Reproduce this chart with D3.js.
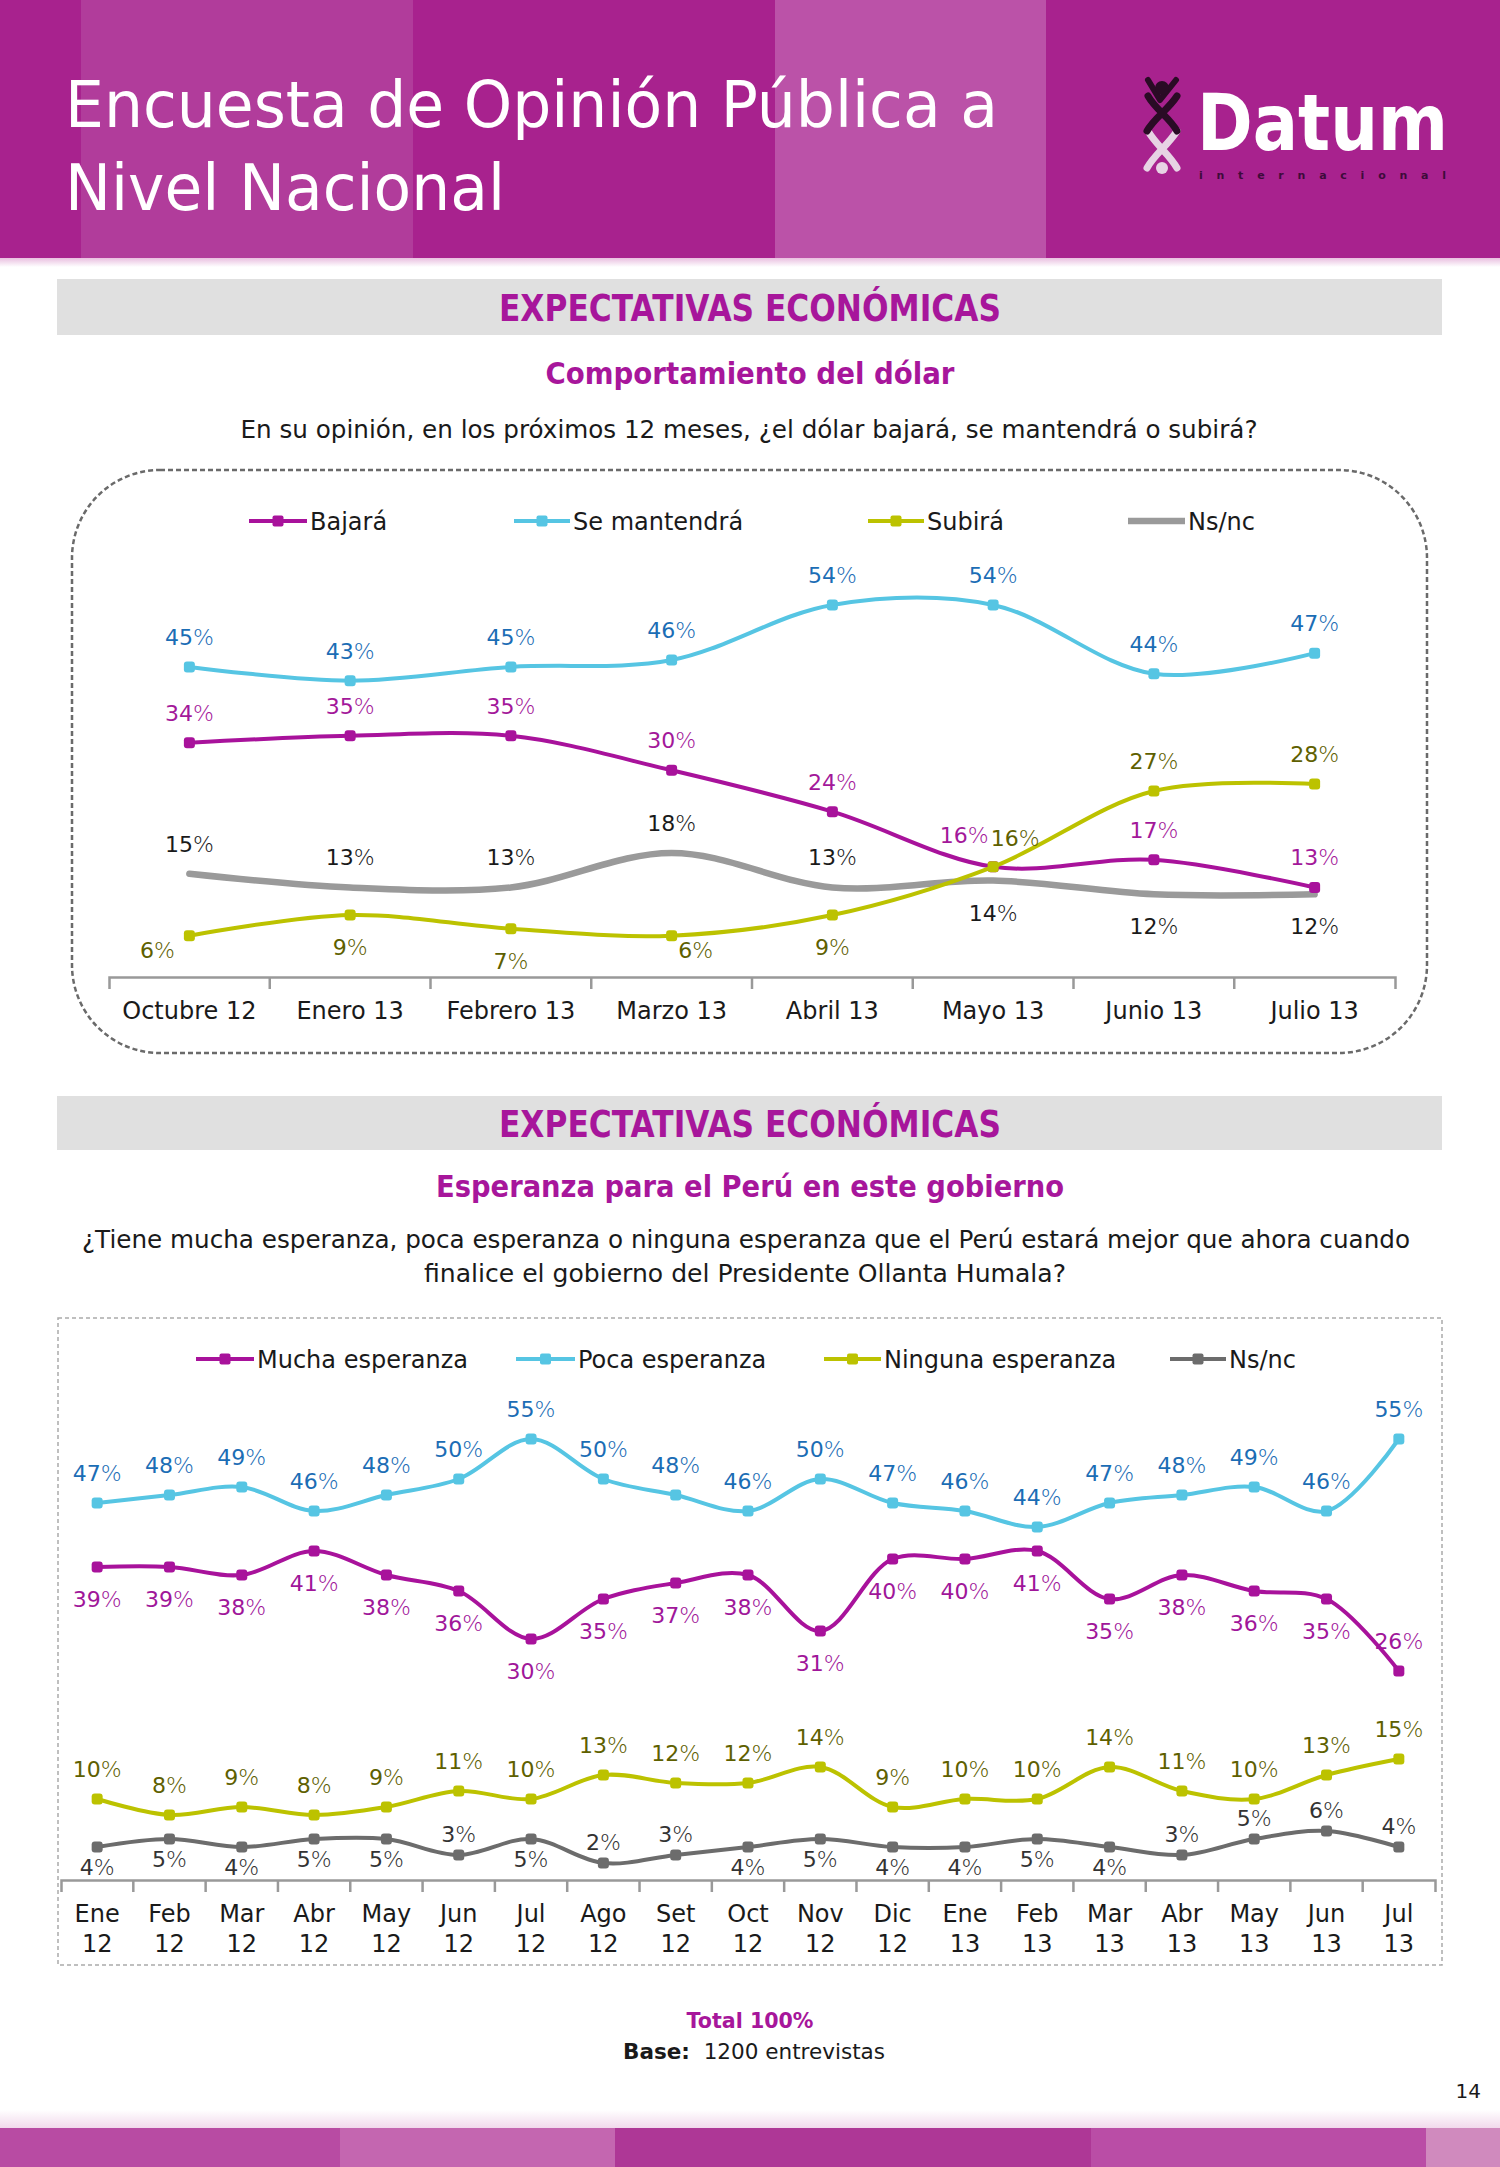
<!DOCTYPE html>
<html><head><meta charset="utf-8">
<script src="https://cdn.jsdelivr.net/npm/d3@7"></script>
<style>
body{margin:0;background:#fff}
svg{display:block}
text{font-family:"DejaVu Sans",Verdana,sans-serif}
</style>
</head><body>
<script>
// ---------------- DATA ----------------
const months1 = ["Octubre 12","Enero 13","Febrero 13","Marzo 13","Abril 13","Mayo 13","Junio 13","Julio 13"];
const bajara      = [34,35,35,30,24,16,17,13];
const seMantendra = [45,43,45,46,54,54,44,47];
const subira      = [6,9,7,6,9,16,27,28];
const nsnc1       = [15,13,13,18,13,14,12,12];

const months2 = ["Ene 12","Feb 12","Mar 12","Abr 12","May 12","Jun 12","Jul 12","Ago 12","Set 12","Oct 12","Nov 12","Dic 12","Ene 13","Feb 13","Mar 13","Abr 13","May 13","Jun 13","Jul 13"];
const mucha   = [39,39,38,41,38,36,30,35,37,38,31,40,40,41,35,38,36,35,26];
const poca    = [47,48,49,46,48,50,55,50,48,46,50,47,46,44,47,48,49,46,55];
const ninguna = [10,8,9,8,9,11,10,13,12,12,14,9,10,10,14,11,10,13,15];
const nsnc2   = [4,5,4,5,5,3,5,2,3,4,5,4,4,5,4,3,5,6,4];

// label placement codes (layout only)
const place1 = {
  bajara: ["T","T","T","T","T","TL","T","T"],
  se:     ["T","T","T","T","T","T","T","T"],
  subira: ["BL","B","B","BR","B","TR","T","T"],
  nsnc:   ["T","T","T","T","T","B","B","B"]
};
const place2 = {
  mucha:   ["B","B","B","B","B","B","B","B","B","B","B","B","B","B","B","B","B","B","T"],
  poca:    months2.map(()=>"T"),
  ninguna: months2.map(()=>"T"),
  nsnc:    ["b","b","b","b","b","t","b","t","t","b","b","b","b","b","b","t","t","t","t"]
};
const offsets = {T:[0,-30],B:[0,32],TL:[-29,-32],TR:[22,-29],BL:[-32,14],BR:[24,14],t:[0,-21],b:[0,20]};

// ---------------- SVG ----------------
const W=1500,H=2167;
const svg=d3.select("body").append("svg").attr("width",W).attr("height",H);
const defs=svg.append("defs");
const g1=defs.append("linearGradient").attr("id","hshadow").attr("x1",0).attr("y1",0).attr("x2",0).attr("y2",1);
g1.append("stop").attr("offset","0%").attr("stop-color","#e9bfe0");
g1.append("stop").attr("offset","100%").attr("stop-color","#ffffff");
const g2=defs.append("linearGradient").attr("id","fshadow").attr("x1",0).attr("y1",0).attr("x2",0).attr("y2",1);
g2.append("stop").attr("offset","0%").attr("stop-color","#ffffff");
g2.append("stop").attr("offset","100%").attr("stop-color","#f1d9ec");

// header
const hdrStripes=[[0,81,"#A8228E"],[81,413,"#B13C9B"],[413,775,"#A8228E"],[775,1046,"#BB52A8"],[1046,1500,"#A8228E"]];
svg.selectAll("rect.hs").data(hdrStripes).join("rect").attr("class","hs")
  .attr("x",d=>d[0]).attr("y",0).attr("width",d=>d[1]-d[0]).attr("height",258).attr("fill",d=>d[2]);
svg.append("rect").attr("x",0).attr("y",258).attr("width",W).attr("height",9).attr("fill","url(#hshadow)");
svg.append("text").attr("x",65).attr("y",127).attr("fill","#fff").attr("font-size",64)
  .attr("textLength",933).attr("lengthAdjust","spacingAndGlyphs").text("Encuesta de Opinión Pública a");
svg.append("text").attr("x",65).attr("y",210).attr("fill","#fff").attr("font-size",64)
  .attr("textLength",440).attr("lengthAdjust","spacingAndGlyphs").text("Nivel Nacional");

// logo
const logo=svg.append("g");
logo.append("path").attr("d","M1148,131 C1156,145 1170,155 1177,168 M1177,131 C1168,145 1154,155 1147,168")
  .attr("stroke","#e7d3e4").attr("stroke-width",7).attr("fill","none").attr("stroke-linecap","round");
logo.append("circle").attr("cx",1162).attr("cy",168).attr("r",6).attr("fill","#e7d3e4");
logo.append("path").attr("d","M1148,96 C1156,110 1170,118 1177,131 M1177,96 C1168,110 1154,118 1147,131")
  .attr("stroke","#2a0b25").attr("stroke-width",7).attr("fill","none").attr("stroke-linecap","round");
logo.append("path").attr("d","M1148,80 L1160,100 L1176,80")
  .attr("stroke","#2a0b25").attr("stroke-width",6).attr("fill","none").attr("stroke-linecap","round").attr("stroke-linejoin","round");
logo.append("circle").attr("cx",1162).attr("cy",88).attr("r",7).attr("fill","#2a0b25");
logo.append("text").attr("x",1197).attr("y",150).attr("fill","#fff").attr("font-size",78).attr("font-weight","bold")
  .attr("textLength",251).attr("lengthAdjust","spacingAndGlyphs").text("Datum");
logo.append("text").attr("x",1199).attr("y",179).attr("fill","#3d0b3a").attr("font-size",11).attr("font-weight","bold")
  .attr("textLength",247).attr("lengthAdjust","spacing").text("internacional");

// section headings
function section(y0,h,base,title){
  svg.append("rect").attr("x",57).attr("y",y0).attr("width",1385).attr("height",h).attr("fill","#E0E0E0");
  svg.append("text").attr("x",750).attr("y",base).attr("text-anchor","middle").attr("fill","#A7169B")
    .attr("font-size",38).attr("font-weight","bold").attr("textLength",502).attr("lengthAdjust","spacingAndGlyphs").text(title);
}
section(279,56,321,"EXPECTATIVAS ECONÓMICAS");
section(1096,54,1137,"EXPECTATIVAS ECONÓMICAS");
function subtitle(y,len,t){
  svg.append("text").attr("x",750).attr("y",y).attr("text-anchor","middle").attr("fill","#A7169B")
    .attr("font-size",30).attr("font-weight","bold").attr("textLength",len).attr("lengthAdjust","spacingAndGlyphs").text(t);
}
subtitle(384,409,"Comportamiento del dólar");
subtitle(1197,628,"Esperanza para el Perú en este gobierno");
function question(x,y,len,t){
  svg.append("text").attr("x",x).attr("y",y).attr("text-anchor","middle").attr("fill","#1a1a1a")
    .attr("font-size",25).attr("textLength",len).attr("lengthAdjust","spacingAndGlyphs").text(t);
}
question(749,438,1017,"En su opinión, en los próximos 12 meses, ¿el dólar bajará, se mantendrá o subirá?");
question(746,1248,1328,"¿Tiene mucha esperanza, poca esperanza o ninguna esperanza que el Perú estará mejor que ahora cuando");
question(745,1282,642,"finalice el gobierno del Presidente Ollanta Humala?");

// ---------------- helpers ----------------
function drawAxis(g,x,yAxis,twoLine,labelY){
  const ax=d3.axisBottom(x).tickSize(0).tickSizeOuter(12).tickPadding(0);
  const a=g.append("g").attr("transform",`translate(0,${yAxis})`).call(ax);
  a.select(".domain").attr("stroke","#999").attr("stroke-width",2.5).attr("fill","none");
  a.selectAll(".tick line").remove();
  a.selectAll(".tick text").attr("font-family",'"DejaVu Sans",Verdana,sans-serif').attr("font-size",24)
    .attr("fill","#1a1a1a").attr("dy",null).attr("y",labelY);
  if(twoLine){
    a.selectAll(".tick text").each(function(d){
      const parts=d.split(" ");
      const t=d3.select(this).text(null);
      t.append("tspan").attr("x",0).attr("y",labelY).text(parts[0]);
      t.append("tspan").attr("x",0).attr("y",labelY+30).text(parts[1]);
    });
  }
  g.append("g").selectAll("line").data(x.domain().slice(1)).join("line")
    .attr("x1",d=>x(d)).attr("x2",d=>x(d)).attr("y1",yAxis).attr("y2",yAxis+12)
    .attr("stroke","#999").attr("stroke-width",2.5);
}
function drawSeries(g,x,y,cats,vals,st,places){
  const cx=c=>x(c)+x.bandwidth()/2;
  const pts=vals.map((v,i)=>[cx(cats[i]),y(v)]);
  g.append("path").datum(pts).attr("d",d3.line().curve(d3.curveCatmullRom.alpha(0.5)))
    .attr("fill","none").attr("stroke",st.color).attr("stroke-width",st.width).attr("stroke-linejoin","round").attr("stroke-linecap","round");
  if(st.marker){
    g.append("g").selectAll("rect").data(pts).join("rect")
      .attr("x",d=>d[0]-5.5).attr("y",d=>d[1]-5.5).attr("width",11).attr("height",11).attr("rx",3)
      .attr("fill",st.color);
  }
  const lbl=g.append("g").selectAll("text").data(vals).join("text")
    .attr("x",(v,i)=>pts[i][0]+offsets[places[i]][0])
    .attr("y",(v,i)=>pts[i][1]+offsets[places[i]][1]+8)
    .attr("text-anchor","middle").attr("font-size",22).attr("fill",st.label);
  lbl.append("tspan").text(v=>v);
  lbl.append("tspan").attr("font-weight",200).text("%");
}
function drawLegend(g,items,y){
  items.forEach(it=>{
    g.append("line").attr("x1",it.x0).attr("x2",it.x1).attr("y1",y).attr("y2",y)
      .attr("stroke",it.color).attr("stroke-width",it.width);
    if(it.marker) g.append("rect").attr("x",(it.x0+it.x1)/2-5.5).attr("y",y-5.5).attr("width",11).attr("height",11).attr("rx",2).attr("fill",it.color);
    g.append("text").attr("x",it.x1+3).attr("y",y+9).attr("font-size",24).attr("fill","#1a1a1a").text(it.name);
  });
}

// ---------------- CHART 1 ----------------
const c1=svg.append("g");
c1.append("rect").attr("x",72).attr("y",470).attr("width",1355).attr("height",583).attr("rx",88).attr("ry",88)
  .attr("fill","none").attr("stroke","#6a6a6a").attr("stroke-width",2.5).attr("stroke-dasharray","5,3");
const x1s=d3.scaleBand().domain(months1).range([109,1395]);
const y1s=d3.scaleLinear().domain([0,60]).range([977,977-60*6.89]);
drawAxis(c1,x1s,977,false,42);
const s1={
  bajara:{color:"#A8129B",width:4,marker:true,label:"#A3189A"},
  se:{color:"#56C5E3",width:4,marker:true,label:"#1B6DB5"},
  subira:{color:"#BCC200",width:4,marker:true,label:"#5E6000"},
  nsnc:{color:"#9a9a9a",width:6.5,marker:false,label:"#1a1a1a"}
};
drawSeries(c1,x1s,y1s,months1,nsnc1,s1.nsnc,place1.nsnc);
drawSeries(c1,x1s,y1s,months1,bajara,s1.bajara,place1.bajara);
drawSeries(c1,x1s,y1s,months1,seMantendra,s1.se,place1.se);
drawSeries(c1,x1s,y1s,months1,subira,s1.subira,place1.subira);
drawLegend(c1,[
  {name:"Bajará",x0:249,x1:307,...s1.bajara},
  {name:"Se mantendrá",x0:514,x1:570,...s1.se},
  {name:"Subirá",x0:868,x1:924,...s1.subira},
  {name:"Ns/nc",x0:1128,x1:1185,...s1.nsnc}
],521);

// ---------------- CHART 2 ----------------
const c2=svg.append("g");
c2.append("rect").attr("x",58).attr("y",1318).attr("width",1384).attr("height",647)
  .attr("fill","none").attr("stroke","#ababab").attr("stroke-width",1.5).attr("stroke-dasharray","4,3");
const x2s=d3.scaleBand().domain(months2).range([61,1435]);
const y2s=d3.scaleLinear().domain([0,60]).range([1879,1879-60*8.0]);
drawAxis(c2,x2s,1880,true,42);
const s2={
  mucha:{color:"#A8129B",width:4,marker:true,label:"#A0169A"},
  poca:{color:"#56C5E3",width:4,marker:true,label:"#1B6DB5"},
  ninguna:{color:"#BCC200",width:4,marker:true,label:"#5E6000"},
  nsnc:{color:"#6c6c6c",width:4,marker:true,label:"#333333"}
};
drawSeries(c2,x2s,y2s,months2,mucha,s2.mucha,place2.mucha);
drawSeries(c2,x2s,y2s,months2,poca,s2.poca,place2.poca);
drawSeries(c2,x2s,y2s,months2,ninguna,s2.ninguna,place2.ninguna);
drawSeries(c2,x2s,y2s,months2,nsnc2,s2.nsnc,place2.nsnc);
drawLegend(c2,[
  {name:"Mucha esperanza",x0:196,x1:254,...s2.mucha},
  {name:"Poca esperanza",x0:516,x1:575,...s2.poca},
  {name:"Ninguna esperanza",x0:824,x1:881,...s2.ninguna},
  {name:"Ns/nc",x0:1170,x1:1226,...s2.nsnc}
],1359);

// ---------------- FOOTER ----------------
svg.append("text").attr("x",750).attr("y",2028).attr("text-anchor","middle").attr("fill","#A7169B")
  .attr("font-size",21).attr("font-weight","bold").attr("textLength",127).attr("lengthAdjust","spacingAndGlyphs").text("Total 100%");
const base=svg.append("text").attr("x",754).attr("y",2059).attr("text-anchor","middle").attr("fill","#1a1a1a")
  .attr("font-size",21).attr("textLength",262).attr("lengthAdjust","spacingAndGlyphs");
base.append("tspan").attr("font-weight","bold").text("Base:");
base.append("tspan").text("\u00a0 1200 entrevistas");
svg.append("text").attr("x",1481).attr("y",2098).attr("text-anchor","end").attr("fill","#1a1a1a").attr("font-size",20).text("14");
svg.append("rect").attr("x",0).attr("y",2110).attr("width",W).attr("height",18).attr("fill","url(#fshadow)");
const ftStripes=[[0,340,"#B84BA3"],[340,615,"#C466B0"],[615,1091,"#AE3796"],[1091,1426,"#BA4DA6"],[1426,1500,"#D08ABE"]];
svg.selectAll("rect.fs").data(ftStripes).join("rect").attr("class","fs")
  .attr("x",d=>d[0]).attr("y",2128).attr("width",d=>d[1]-d[0]).attr("height",H-2128).attr("fill",d=>d[2]);
</script>
</body></html>
